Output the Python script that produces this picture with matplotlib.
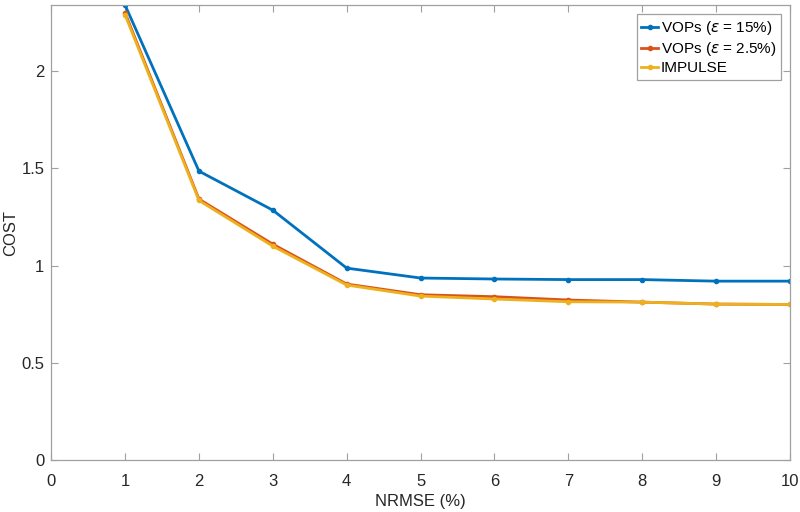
import matplotlib.pyplot as plt

plt.rcParams['font.family'] = ['Liberation Sans', 'DejaVu Sans']

nrmse = [1, 2, 3, 4, 5, 6, 7, 8, 9, 10]
vops_15 = [2.34, 1.486, 1.285, 0.987, 0.936, 0.931, 0.928, 0.928, 0.92, 0.92]
vops_25 = [2.30, 1.342, 1.11, 0.905, 0.85, 0.84, 0.823, 0.812, 0.802, 0.80]
impulse = [2.29, 1.335, 1.10, 0.90, 0.843, 0.828, 0.814, 0.812, 0.802, 0.80]

series = [
    (vops_15, '#0072BD', r'VOPs ($\epsilon$ = 15%)'),
    (vops_25, '#D95319', r'VOPs ($\epsilon$ = 2.5%)'),
    (impulse, '#EDB120', 'IMPULSE'),
]

fig = plt.figure(figsize=(8, 5.12), dpi=100)
ax = fig.add_axes([0.064, 0.1016, 0.9235, 0.8884])

for vals, color, label in series:
    ax.plot(nrmse, vals, color=color, linewidth=2, marker='o', markersize=3, label=label)

ax.set_xlim(0, 10)
ax.set_ylim(0, 2.34)
ax.set_xticks(range(0, 11))
ax.set_yticks([0, 0.5, 1, 1.5, 2])
ax.set_yticklabels(['0', '0.5', '1', '1.5', '2'])
ax.set_xlabel('NRMSE (%)', fontsize=12, color='#262626', labelpad=4)
ax.set_ylabel('COST', fontsize=12, color='#262626', labelpad=2)

for side in ax.spines.values():
    side.set_color('#a0a0a0')
    side.set_linewidth(0.9)
ax.tick_params(direction='in', top=True, right=True, length=5, color='#a0a0a0',
               labelsize=12, labelcolor='#262626')
ax.tick_params(axis='x', pad=10)
ax.tick_params(axis='y', pad=5)

leg = ax.legend(loc='upper right', fontsize=11, handlelength=1.1, handletextpad=0.15,
                borderpad=0.3, labelspacing=0.2, fancybox=False, framealpha=1,
                borderaxespad=0.6)
leg.get_frame().set_edgecolor('#a0a0a0')
leg.get_frame().set_linewidth(0.9)

fig.savefig('out.png', dpi=100)
